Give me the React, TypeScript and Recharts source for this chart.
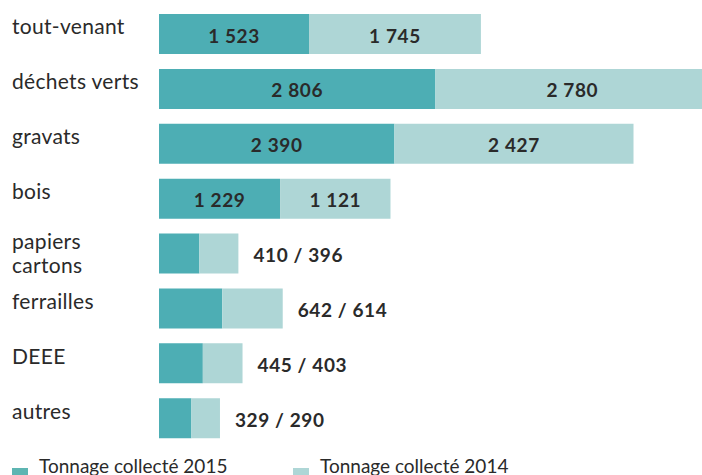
import React from "react";
import { Bar, BarChart, XAxis, YAxis } from "recharts";

const categories = [
  "tout-venant",
  "déchets verts",
  "gravats",
  "bois",
  "papiers cartons",
  "ferrailles",
  "DEEE",
  "autres",
];
const tonnage2015 = [1523, 2806, 2390, 1229, 410, 642, 445, 329];
const tonnage2014 = [1745, 2780, 2427, 1121, 396, 614, 403, 290];
const insideLabels = [true, true, true, true, false, false, false, false];
const legendLabels = ["Tonnage collecté 2015", "Tonnage collecté 2014"];

const DARK = "#4DAEB4";
const LIGHT = "#AED6D6";
const TEXT = "#2a2a2a";
const FONT = "Lato, 'Open Sans', sans-serif";

const data = categories.map((name, i) => ({
  name,
  y2015: tonnage2015[i],
  y2014: tonnage2014[i],
  inside: insideLabels[i],
}));

const fmt = (v: number) => String(v).replace(/\B(?=(\d{3})+(?!\d))/g, " ");

function CategoryTick(props: any) {
  const { y, payload } = props;
  const lines = payload.value === "papiers cartons" ? ["papiers", "cartons"] : [payload.value];
  return (
    <text
      x={12}
      y={lines.length > 1 ? y - 5 : y}
      fill={TEXT}
      fontSize={21}
      letterSpacing={0.3}
      fontFamily={FONT}
      textAnchor="start"
    >
      {lines.map((l: string, k: number) => (
        <tspan key={k} x={12} dy={k === 0 ? 0 : 24}>
          {l}
        </tspan>
      ))}
    </text>
  );
}

function makeLabel(series: "y2015" | "y2014") {
  return (props: any) => {
    const { x, y, width, height, index } = props;
    const row = data[index];
    const common = {
      fill: TEXT,
      fontSize: 19,
      fontWeight: 700,
      letterSpacing: 0.6,
      fontFamily: FONT,
      dominantBaseline: "central" as const,
    };
    if (row.inside) {
      return (
        <text x={x + width / 2} y={y + height / 2 + 1} textAnchor="middle" {...common}>
          {fmt(row[series])}
        </text>
      );
    }
    if (series === "y2014") {
      return (
        <text x={x + width + 15} y={y + height / 2 + 1} textAnchor="start" {...common}>
          {`${row.y2015} / ${row.y2014}`}
        </text>
      );
    }
    return null;
  };
}

function LegendItem({ color, label, left }: { color: string; label: string; left: number }) {
  return (
    <>
      <div style={{ position: "absolute", left, top: 468, width: 16, height: 16, background: color }} />
      <div
        style={{
          position: "absolute",
          left: left + 27,
          top: 454,
          fontSize: 19,
          lineHeight: "24px",
          color: TEXT,
          fontFamily: FONT,
          whiteSpace: "nowrap",
        }}
      >
        {label}
      </div>
    </>
  );
}

export default function App() {
  return (
    <div style={{ position: "fixed", left: 0, top: 0, width: 702, height: 475, overflow: "hidden", background: "#fff" }}>
      <BarChart
        width={720}
        height={475}
        data={data}
        layout="vertical"
        margin={{ top: 7, right: 0, bottom: 29, left: 0 }}
      >
        <XAxis type="number" hide domain={[0, 5695]} />
        <YAxis
          type="category"
          dataKey="name"
          width={159}
          axisLine={false}
          tickLine={false}
          tick={<CategoryTick />}
          interval={0}
        />
        <Bar dataKey="y2015" stackId="a" fill={DARK} barSize={40} isAnimationActive={false} label={makeLabel("y2015")} />
        <Bar dataKey="y2014" stackId="a" fill={LIGHT} barSize={40} isAnimationActive={false} label={makeLabel("y2014")} />
      </BarChart>
      <LegendItem color="#5DB5B2" label={legendLabels[0]} left={12} />
      <LegendItem color={LIGHT} label={legendLabels[1]} left={293} />
    </div>
  );
}
